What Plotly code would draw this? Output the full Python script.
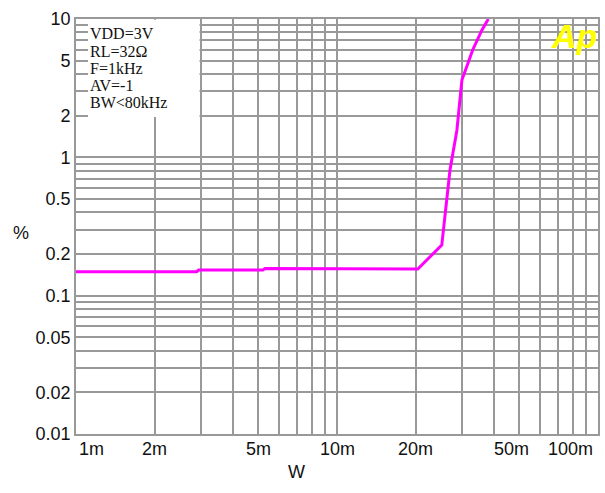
import math
import plotly.graph_objects as go

# ---- data ----
power_w = [0.001, 0.0029, 0.00295, 0.0052, 0.0053, 0.0204, 0.0252, 0.0254,
           0.0271, 0.0288, 0.0301, 0.0331, 0.0359, 0.0380]
thd_pct = [0.149, 0.149, 0.153, 0.153, 0.157, 0.156, 0.232, 0.267,
           0.81, 1.57, 3.62, 5.97, 8.3, 10.0]

x_tick_vals = [0.001, 0.002, 0.005, 0.01, 0.02, 0.05, 0.1]
x_tick_text = ["1m", "2m", "5m", "10m", "20m", "50m", "100m"]
y_label_vals = [0.01, 0.02, 0.05, 0.1, 0.2, 0.5, 1, 2, 5, 10]
y_label_text = ["0.01", "0.02", "0.05", "0.1", "0.2", "0.5", "1", "2", "5", "10"]

cond_lines = ["VDD=3V", "RL=32\u03a9", "F=1kHz", "AV=-1", "BW<80kHz"]

GRID = "#999999"

# grid positions (1..9 per decade)
x_grid = []
for d in (-3, -2):
    for m in range(1, 10):
        x_grid.append(m * 10 ** d)
x_grid.append(0.1)
y_grid, y_text = [], []
for d in (-2, -1, 0):
    for m in range(1, 10):
        v = round(m * 10 ** d, 6)
        y_grid.append(v)
        lab = ""
        for lv, lt in zip(y_label_vals, y_label_text):
            if abs(lv - v) < 1e-9:
                lab = lt
        y_text.append(lab)
y_grid.append(10)
y_text.append("10")

fig = go.Figure()
fig.add_trace(go.Scatter(x=power_w, y=thd_pct, mode="lines",
                         line=dict(color="#ff00ff", width=3),
                         hoverinfo="skip", showlegend=False, cliponaxis=True))

W, H = 605, 493
ml, mr, mt, mb = 76, 5, 19, 59
pw, ph = W - ml - mr, H - mt - mb

fig.update_layout(
    width=W, height=H,
    margin=dict(l=ml, r=mr, t=mt, b=mb),
    paper_bgcolor="white", plot_bgcolor="white",
    font=dict(family="Liberation Sans, Arial, sans-serif", size=18, color="#111111"),
    xaxis=dict(type="log", range=[-3, -1], tickvals=x_grid, showticklabels=False,
               ticks="", showgrid=True, gridcolor=GRID, gridwidth=1.6,
               showline=True, linecolor=GRID, linewidth=1.6, mirror=True,
               zeroline=False),
    yaxis=dict(type="log", range=[-2, 1], tickvals=y_grid, ticktext=y_text,
               ticks="", showgrid=True, gridcolor=GRID, gridwidth=1.6,
               showline=True, linecolor=GRID, linewidth=1.6, mirror=True,
               zeroline=False, tickfont=dict(size=18)),
)

# white box for test conditions
bx0, bx1 = (88 - ml) / pw, (200 - ml) / pw
by0 = (H - mb - 117) / ph
fig.add_shape(type="rect", xref="paper", yref="paper", x0=bx0, x1=bx1, y0=by0, y1=0.998,
              fillcolor="white", line=dict(width=0), layer="above")

line_y = [33.5, 51, 68.5, 85.5, 102.5]
for txt, yp in zip(cond_lines, line_y):
    fig.add_annotation(text=txt, xref="paper", yref="paper", x=bx0, xanchor="left",
                       y=(H - mb - yp) / ph, yanchor="middle", showarrow=False,
                       font=dict(family="Liberation Serif, Times New Roman, serif",
                                 size=16, color="#111111"))

# x tick labels
for v, t in zip(x_tick_vals, x_tick_text):
    anchor, shift = "center", 0
    if t == "1m":
        anchor, shift = "left", 1
    elif t == "100m":
        anchor, shift = "right", -3
    elif t == "50m":
        shift = -8
    fig.add_annotation(text=t, xref="x", yref="paper", x=math.log10(v), y=0,
                       xanchor=anchor, yanchor="top", xshift=shift, yshift=-3,
                       showarrow=False, font=dict(size=18, color="#111111"))

# axis titles
fig.add_annotation(text="W", xref="paper", yref="paper", x=(297 - ml) / pw, y=(H - mb - 472) / ph,
                   xanchor="center", yanchor="middle", showarrow=False,
                   font=dict(size=18, color="#111111"))
fig.add_annotation(text="%", xref="paper", yref="paper", x=(20.5 - ml) / pw, y=(H - mb - 233) / ph,
                   xanchor="center", yanchor="middle", showarrow=False,
                   font=dict(size=18, color="#111111"))

# Ap logo
fig.add_annotation(text="<b><i>Ap</i></b>", xref="paper", yref="paper",
                   x=(576 - ml) / pw, y=(H - mb - 36) / ph, xanchor="center", yanchor="middle",
                   showarrow=False, font=dict(family="Liberation Sans, Arial, sans-serif",
                                              size=34, color="#ffff00"))

fig.write_html("out.html", config={"displayModeBar": False},
               post_script="document.body.style.margin='0px';document.body.style.overflow='hidden';")
